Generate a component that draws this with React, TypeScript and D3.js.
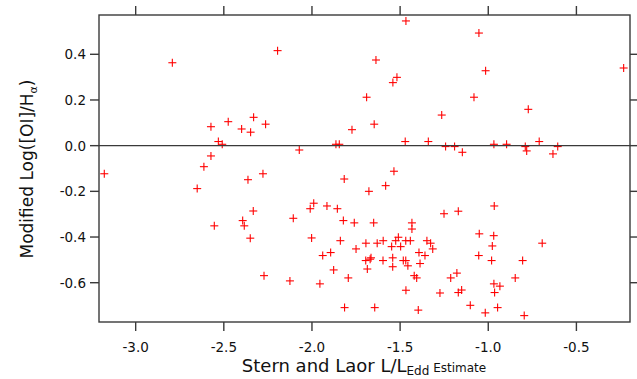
import React from 'react';
import * as d3 from 'd3';

// L/L_Edd estimate (x) and modified log([OI]/Halpha) (y)
const xValues = [
  -2.792, -2.573, -2.475, -2.399, -2.348, -2.331, -2.263, -2.531, -2.509, -2.573, -2.613,
  -1.467, -2.195, -1.637, -1.518, -1.541, -1.690, -1.264, -1.773, -1.647, -2.072, -1.864,
  -1.845, -1.471, -1.340, -1.242,
  -1.053, -1.015, -1.081, -0.773, -0.232, -1.191, -1.147, -0.968, -0.896, -0.790, -0.782,
  -0.711, -0.606, -0.633,
  -3.178, -2.651, -2.363, -2.278, -2.333, -2.393, -2.384, -2.554, -2.350, -2.272,
  -1.817, -1.535, -1.582, -1.677, -1.251, -2.106, -1.990, -2.010, -1.915, -1.856, -1.822,
  -1.760, -1.650, -1.433, -1.433, -2.002, -1.839, -1.694, -1.630, -1.596, -1.525, -1.510,
  -1.468, -1.442, -1.548, -1.497, -1.348, -1.327, -1.315, -1.393, -1.359, -1.750, -1.939,
  -1.894, -1.695, -1.665, -1.670, -1.597, -1.542, -1.542, -1.482, -1.468, -1.456, -1.387,
  -1.686, -1.877, -2.125, -1.955, -1.794, -1.420, -1.406, -1.467, -1.274, -1.815, -1.644,
  -1.397,
  -1.170, -0.966, -1.051, -0.969, -0.977, -0.694, -1.054, -0.981, -0.805, -1.178, -1.213,
  -0.847, -0.968, -0.934, -1.170, -1.151, -0.964, -1.102, -1.017, -0.947, -0.796,
];

const yValues = [
  0.363, 0.083, 0.105, 0.073, 0.059, 0.124, 0.094, 0.018, 0.006, -0.045, -0.092,
  0.546, 0.416, 0.375, 0.299, 0.276, 0.212, 0.134, 0.070, 0.094, -0.019, 0.006,
  0.006, 0.018, 0.018, -0.004,
  0.493, 0.328, 0.212, 0.159, 0.340, -0.004, -0.029, 0.006, 0.006, -0.004, -0.023,
  0.018, -0.004, -0.036,
  -0.123, -0.188, -0.149, -0.123, -0.286, -0.328, -0.351, -0.351, -0.405, -0.569,
  -0.146, -0.112, -0.175, -0.200, -0.298, -0.318, -0.252, -0.276, -0.264, -0.276, -0.328,
  -0.338, -0.338, -0.338, -0.365, -0.404, -0.416, -0.427, -0.427, -0.416, -0.416, -0.401,
  -0.416, -0.416, -0.442, -0.442, -0.416, -0.427, -0.452, -0.468, -0.481, -0.452, -0.481,
  -0.468, -0.503, -0.491, -0.497, -0.503, -0.491, -0.530, -0.503, -0.503, -0.526, -0.516,
  -0.540, -0.544, -0.592, -0.605, -0.579, -0.569, -0.579, -0.633, -0.645, -0.709, -0.709,
  -0.720,
  -0.287, -0.264, -0.386, -0.394, -0.439, -0.427, -0.481, -0.503, -0.503, -0.558, -0.579,
  -0.579, -0.605, -0.615, -0.643, -0.632, -0.643, -0.699, -0.732, -0.709, -0.744,
];

const xTicks = [-3.0, -2.5, -2.0, -1.5, -1.0, -0.5];
const xTickLabels = ['-3.0', '-2.5', '-2.0', '-1.5', '-1.0', '-0.5'];
const yTicks = [0.4, 0.2, 0.0, -0.2, -0.4, -0.6];
const yTickLabels = ['0.4', '0.2', '0.0', '-0.2', '-0.4', '-0.6'];

const width = 637;
const height = 379;
const plot = { left: 99, right: 630, top: 15, bottom: 322 };
const font = '"DejaVu Sans", Verdana, sans-serif';
const frameColor = '#3a3a3a';

export default function App() {
  const x = d3.scaleLinear().domain([-3.208, -0.196]).range([plot.left, plot.right]);
  const y = d3.scaleLinear().domain([0.572, -0.772]).range([plot.top, plot.bottom]);
  const tickLen = 9;
  const arm = 4;

  const points = xValues.map((v, i) => ({ x: v, y: yValues[i] }));

  return (
    <svg
      width={width}
      height={height}
      viewBox={`0 0 ${width} ${height}`}
      style={{ position: 'absolute', left: 0, top: 0, background: '#fff' }}
    >
      {/* points */}
      <g stroke="#ff0000" strokeWidth={1.1}>
        {points.map((d, i) => {
          const cx = x(d.x);
          const cy = y(d.y);
          return (
            <g key={i}>
              <line x1={cx - arm} x2={cx + arm} y1={cy} y2={cy} />
              <line x1={cx} x2={cx} y1={cy - arm} y2={cy + arm} />
            </g>
          );
        })}
      </g>

      {/* zero line */}
      <line x1={plot.left} x2={plot.right} y1={y(0)} y2={y(0)} stroke={frameColor} strokeWidth={1.4} />

      {/* frame */}
      <rect
        x={plot.left}
        y={plot.top}
        width={plot.right - plot.left}
        height={plot.bottom - plot.top}
        fill="none"
        stroke={frameColor}
        strokeWidth={1.4}
      />

      {/* ticks on all four sides, pointing out */}
      <g stroke={frameColor} strokeWidth={1.4}>
        {xTicks.map((t) => (
          <g key={t}>
            <line x1={x(t)} x2={x(t)} y1={plot.bottom} y2={plot.bottom + tickLen} />
            <line x1={x(t)} x2={x(t)} y1={plot.top} y2={plot.top - tickLen} />
          </g>
        ))}
        {yTicks.map((t) => (
          <g key={t}>
            <line x1={plot.left} x2={plot.left - tickLen} y1={y(t)} y2={y(t)} />
            <line x1={plot.right} x2={plot.right + tickLen} y1={y(t)} y2={y(t)} />
          </g>
        ))}
      </g>

      {/* tick labels */}
      <g fontFamily={font} fontSize={13.5} fill="#111">
        {xTicks.map((t, i) => (
          <text key={t} x={x(t)} y={plot.bottom + 30} textAnchor="middle">
            {xTickLabels[i]}
          </text>
        ))}
        {yTicks.map((t, i) => (
          <text key={t} x={plot.left - 13} y={y(t)} dy="0.36em" textAnchor="end">
            {yTickLabels[i]}
          </text>
        ))}
      </g>

      {/* x axis title */}
      <text x={364} y={372} textAnchor="middle" fontFamily={font} fontSize={18} fill="#111">
        Stern and Laor L/L
        <tspan fontSize={12} dy={3}>Edd</tspan>
        <tspan fontSize={12} dy={-3}> Estimate</tspan>
      </text>

      {/* y axis title */}
      <text
        transform={`translate(33, 169) rotate(-90)`}
        textAnchor="middle"
        fontFamily={font}
        fontSize={17}
        fill="#111"
      >
        Modified Log([OI]/H
        <tspan fontSize={11} dy={4}>α</tspan>
        <tspan dy={-4}>)</tspan>
      </text>
    </svg>
  );
}
